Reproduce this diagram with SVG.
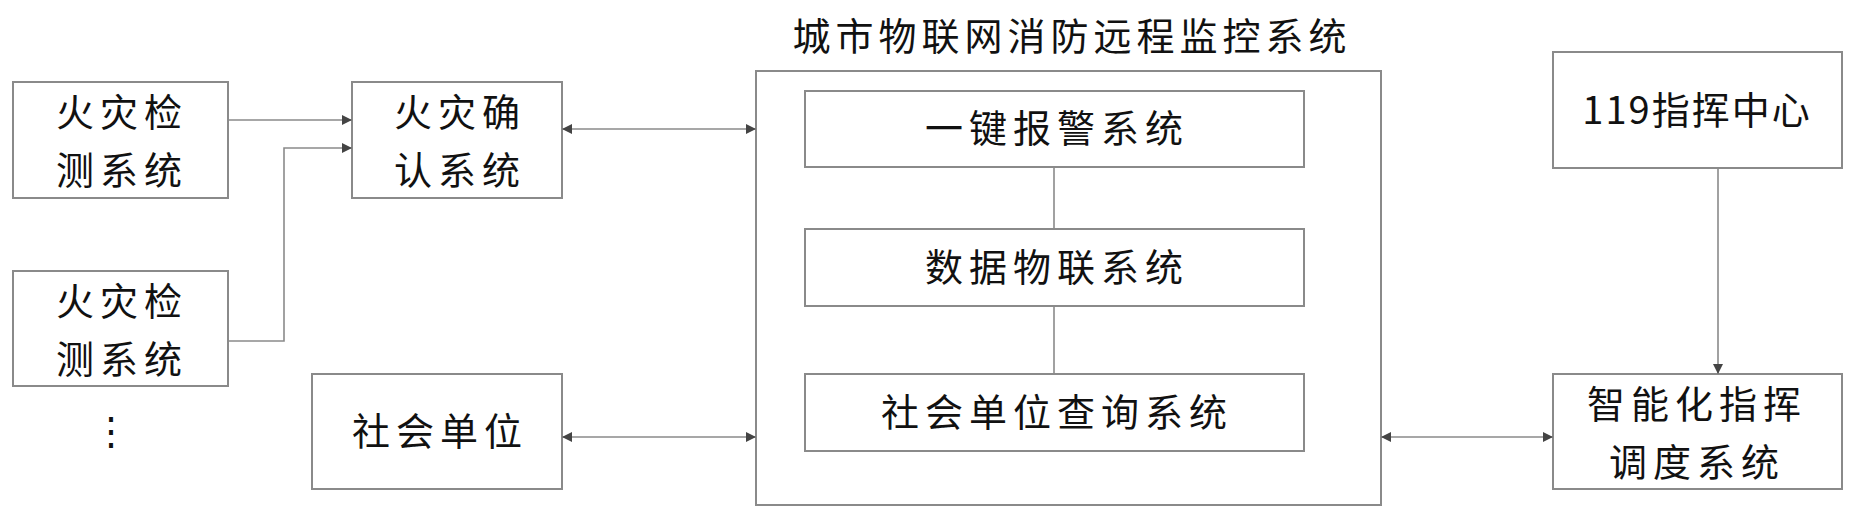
<svg xmlns="http://www.w3.org/2000/svg" width="1856" height="521" viewBox="0 0 1856 521">
<style>
.b{fill:#fff;stroke:#8a8a8a;stroke-width:2}
.t{font-family:"Noto Sans CJK SC",sans-serif;font-size:38px;fill:#111;text-anchor:middle;letter-spacing:6px}
.c{stroke:#8a8a8a;stroke-width:1.6;fill:none}
</style>
<defs>
<marker id="a" viewBox="0 0 10 10" refX="10" refY="5" markerWidth="10" markerHeight="10" markerUnits="userSpaceOnUse" orient="auto-start-reverse"><path d="M0,0L10,5L0,10z" fill="#444"/></marker>
</defs>
<text class="t" x="1072" y="50" style="font-size:38px;letter-spacing:5px">城市物联网消防远程监控系统</text>
<g id="n1"><rect class="b" x="13" y="82" width="215" height="116"/><text class="t" x="122" y="126">火灾检</text><text class="t" x="122" y="184">测系统</text></g>
<g id="n2"><rect class="b" x="13" y="271" width="215" height="115"/><text class="t" x="122" y="315">火灾检</text><text class="t" x="122" y="373">测系统</text></g>
<g id="dots"><text class="t" x="111" y="445" style="letter-spacing:0">⋮</text></g>
<g id="n3"><rect class="b" x="352" y="82" width="210" height="116"/><text class="t" x="460" y="126">火灾确</text><text class="t" x="460" y="184">认系统</text></g>
<g id="n4"><rect class="b" x="312" y="374" width="250" height="115"/><text class="t" x="440" y="445">社会单位</text></g>
<g id="big"><rect class="b" x="756" y="71" width="625" height="434"/></g>
<g id="s1"><rect class="b" x="805" y="91" width="499" height="76"/><text class="t" x="1057" y="142">一键报警系统</text></g>
<g id="s2"><rect class="b" x="805" y="229" width="499" height="77"/><text class="t" x="1057" y="281">数据物联系统</text></g>
<g id="s3"><rect class="b" x="805" y="374" width="499" height="77"/><text class="t" x="1057" y="426">社会单位查询系统</text></g>
<g id="n5"><rect class="b" x="1553" y="52" width="289" height="116"/><text class="t" x="1697" y="124" style="letter-spacing:2px">119指挥中心</text></g>
<g id="n6"><rect class="b" x="1553" y="374" width="289" height="115"/><text class="t" x="1697" y="418">智能化指挥</text><text class="t" x="1697" y="476">调度系统</text></g>
<g id="connectors">
<line class="c" x1="228" y1="120" x2="352" y2="120" marker-end="url(#a)"/>
<polyline class="c" points="228,341 284,341 284,148 352,148" marker-end="url(#a)"/>
<line class="c" x1="562" y1="129" x2="756" y2="129" marker-start="url(#a)" marker-end="url(#a)"/>
<line class="c" x1="562" y1="437" x2="756" y2="437" marker-start="url(#a)" marker-end="url(#a)"/>
<line class="c" x1="1054" y1="167" x2="1054" y2="229"/>
<line class="c" x1="1054" y1="306" x2="1054" y2="374"/>
<line class="c" x1="1381" y1="437" x2="1553" y2="437" marker-start="url(#a)" marker-end="url(#a)"/>
<line class="c" x1="1718" y1="168" x2="1718" y2="374" marker-end="url(#a)"/>
</g>
</svg>
